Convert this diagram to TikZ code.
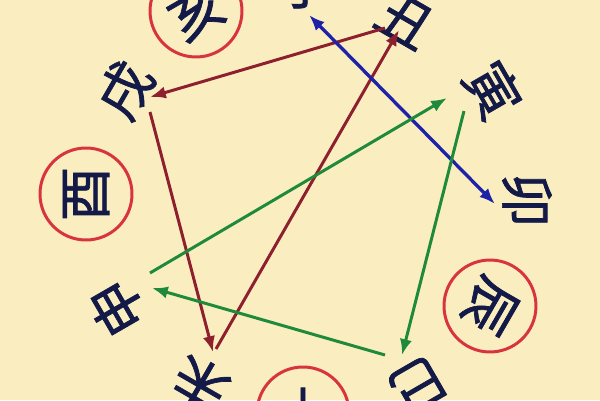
\documentclass[tikz,border=0pt]{standalone}
\usepackage{fontspec}
\newfontfamily\cjk{Noto Sans CJK SC}[FakeBold=1.3]
\usetikzlibrary{arrows.meta}
\definecolor{bg}{HTML}{FAEEC0}
\definecolor{ink}{HTML}{141A48}
\definecolor{ringred}{HTML}{D8343F}
\definecolor{darkred}{HTML}{8E1F2E}
\definecolor{dblue}{HTML}{1E22A8}
\definecolor{dgreen}{HTML}{1F8A3C}
\begin{document}
\begin{tikzpicture}[x=0.02cm,y=-0.02cm,
  branch/.style={font=\cjk\fontsize{31}{31}\selectfont, text=ink, inner sep=0pt},
  ring/.style={branch, draw=ringred, line width=1.7pt, circle, minimum size=1.84cm},
  conn/.style={line width=1.7pt, -{Latex[length=9pt,width=7pt]}},
  both/.style={line width=1.9pt, {Latex[length=9pt,width=7pt]}-{Latex[length=9pt,width=7pt]}}
]
\useasboundingbox (0,0) rectangle (600,400);
\clip (0,0) rectangle (600,400);
\fill[bg] (0,0) rectangle (600,400);

% branches
\node[branch, rotate=0]    (zi)   at (305,-15) {子};
\node[branch, rotate=-30]  (chou) at (405,20)  {丑};
\node[branch, rotate=-60]  (yin)  at (493,90)  {寅};
\node[branch, rotate=-90]  (mao)  at (527,200) {卯};
\node[ring,   rotate=-120] (chen) at (490,306) {辰};
\node[branch, rotate=-150] (si)   at (418,385) {巳};
\node[ring,   rotate=180]  (wu)   at (303,413) {午};
\node[branch, rotate=150]  (wei)  at (200,385) {未};
\node[branch, rotate=120]  (shen) at (117,308) {申};
\node[ring,   rotate=90]   (you)  at (86,194)  {酉};
\node[branch, rotate=60]   (xu)   at (125,90)  {戌};
\node[ring,   rotate=30]   (hai)  at (196,11)  {亥};

% connector ends
\coordinate (chou-a) at (385,28);
\coordinate (chou-b) at (399,30);
\coordinate (xu-a)   at (150,97);
\coordinate (xu-b)   at (150,112);
\coordinate (wei-a)  at (213,352);
\coordinate (wei-b)  at (216,349);
\coordinate (zi-a)   at (309,15);
\coordinate (mao-a)  at (495,204);
\coordinate (shen-a) at (150,273);
\coordinate (shen-b) at (152,288);
\coordinate (yin-a)  at (447,98);
\coordinate (yin-b)  at (464,111);
\coordinate (si-a)   at (402,355);
\coordinate (si-b)   at (385,355);

% red triangle
\draw[conn, darkred] (chou-a) -- (xu-a);
\draw[conn, darkred] (xu-b) -- (wei-a);
\draw[conn, darkred] (wei-b) -- (chou-b);
% blue
\draw[both, dblue] (zi-a) -- (mao-a);
% green triangle
\draw[conn, dgreen] (shen-a) -- (yin-a);
\draw[conn, dgreen] (yin-b) -- (si-a);
\draw[conn, dgreen] (si-b) -- (shen-b);
\end{tikzpicture}
\end{document}
